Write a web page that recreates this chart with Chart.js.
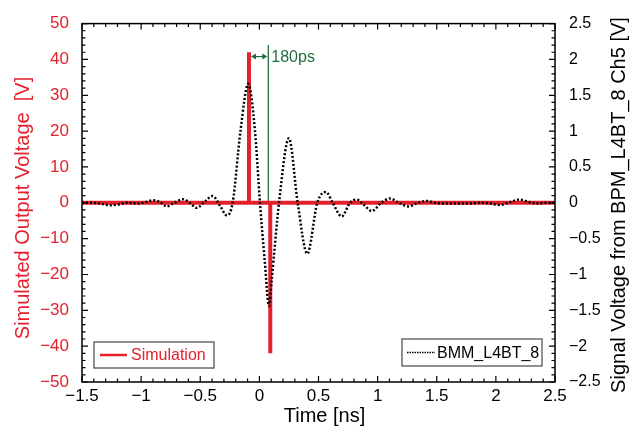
<!DOCTYPE html>
<html>
<head>
<meta charset="utf-8">
<script src="https://cdn.jsdelivr.net/npm/chart.js@4.4.0/dist/chart.umd.min.js"></script>
<style>
  html, body { margin: 0; padding: 0; background: #fff; }
</style>
</head>
<body>
<canvas id="c" width="631" height="426"></canvas>
<script>
// Simulación (eje izquierdo, V)
const simTime = [-1.5, -0.088, -0.088, -0.088, 0.092, 0.092, 0.092, 2.5];
const simVolt = [0, 0, 42, 0, 0, -42, 0, 0];

// Señal medida BPM_L4BT_8 (eje derecho, V)
const bpmTime = [-1.5, -1.42, -1.35, -1.26, -1.18, -1.12, -1.03, -0.96, -0.9, -0.84,
  -0.784, -0.72, -0.646, -0.59, -0.53, -0.46, -0.395, -0.33, -0.276, -0.226,
  -0.16, -0.094, -0.037, 0.005, 0.047, 0.081, 0.104, 0.166, 0.25, 0.324,
  0.405, 0.49, 0.563, 0.62, 0.696, 0.766, 0.823, 0.885, 0.95, 1.03,
  1.105, 1.18, 1.26, 1.34, 1.415, 1.5, 1.58, 1.78, 1.866, 1.95,
  2.035, 2.12, 2.2, 2.28, 2.345, 2.42, 2.5];
const bpmVolt = [0, 0, -0.01, -0.035, -0.02, 0, -0.01, 0.01, 0.035, 0.01,
  -0.05, 0, 0.05, 0, -0.07, 0.02, 0.095, -0.05, -0.175, 0,
  1.0, 1.66, 1.0, 0, -0.84, -1.44, -1.08, 0, 0.9, 0,
  -0.71, 0, 0.15, 0, -0.19, 0, 0.045, -0.03, -0.115, 0,
  0.06, 0, -0.05, 0, 0.025, -0.005, -0.01, -0.01, 0, -0.01,
  -0.03, 0.01, 0.045, 0.01, -0.01, 0, 0];

// Marcador verde del desfase
const markerTime = [0.0755, 0.0755];
const markerVolt = [0, 44];
const arrowVolt = 40.8;
const gapLabel = '180ps';

const xTicks = { min: -1.5, max: 2.5, step: 0.5, minor: 0.1 };
const yTicks = { min: -50, max: 50, step: 10, minor: 2 };
const y2Ticks = { min: -2.5, max: 2.5, step: 0.5, minor: 0.1 };

const RED = '#e3202c';
const GREEN = '#1f6e3a';
const FONT = "'Liberation Sans', Arial, sans-serif";

const toPoints = (xs, ys) => xs.map((t, i) => ({ x: t, y: ys[i] }));
const fmt = v => String(Math.round(v * 10) / 10).replace('-', '\u2212');

const decor = {
    id: 'decor',
    afterDraw(chart) {
        const { ctx, chartArea: a, scales } = chart;
        const { x, y, y2 } = scales;
        ctx.save();

        // marco
        ctx.strokeStyle = '#000';
        ctx.lineWidth = 1.5;
        ctx.strokeRect(a.left, a.top, a.right - a.left, a.bottom - a.top);

        // marcas hacia dentro
        ctx.lineWidth = 1.2;
        ctx.beginPath();
        const nx = Math.round((xTicks.max - xTicks.min) / xTicks.minor);
        for (let i = 0; i <= nx; i++) {
            const px = x.getPixelForValue(xTicks.min + i * xTicks.minor);
            const len = i % 5 === 0 ? 6 : 3.5;
            ctx.moveTo(px, a.bottom); ctx.lineTo(px, a.bottom - len);
            ctx.moveTo(px, a.top); ctx.lineTo(px, a.top + len);
        }
        const ny = Math.round((yTicks.max - yTicks.min) / yTicks.minor);
        for (let i = 0; i <= ny; i++) {
            const py = y.getPixelForValue(yTicks.min + i * yTicks.minor);
            const len = i % 5 === 0 ? 6 : 3.5;
            ctx.moveTo(a.left, py); ctx.lineTo(a.left + len, py);
        }
        const ny2 = Math.round((y2Ticks.max - y2Ticks.min) / y2Ticks.minor);
        for (let i = 0; i <= ny2; i++) {
            const py = y2.getPixelForValue(y2Ticks.min + i * y2Ticks.minor);
            const len = i % 5 === 0 ? 6 : 3.5;
            ctx.moveTo(a.right, py); ctx.lineTo(a.right - len, py);
        }
        ctx.stroke();

        // flecha doble verde
        const x1 = x.getPixelForValue(simTime[2]) + 2;
        const x2 = x.getPixelForValue(markerTime[0]) - 1;
        const ya = y.getPixelForValue(arrowVolt);
        ctx.strokeStyle = GREEN;
        ctx.fillStyle = GREEN;
        ctx.lineWidth = 1.2;
        ctx.beginPath();
        ctx.moveTo(x1 + 3, ya); ctx.lineTo(x2 - 3, ya);
        ctx.stroke();
        ctx.beginPath();
        ctx.moveTo(x1, ya); ctx.lineTo(x1 + 5, ya - 3); ctx.lineTo(x1 + 5, ya + 3); ctx.closePath();
        ctx.moveTo(x2, ya); ctx.lineTo(x2 - 5, ya - 3); ctx.lineTo(x2 - 5, ya + 3); ctx.closePath();
        ctx.fill();
        ctx.font = '16px ' + FONT;
        ctx.textAlign = 'left';
        ctx.textBaseline = 'middle';
        ctx.fillText(gapLabel, x.getPixelForValue(markerTime[0]) + 3, ya + 1);

        // leyendas
        const ds = chart.data.datasets;
        ctx.font = '16px ' + FONT;
        ctx.strokeStyle = '#555';
        ctx.lineWidth = 1.3;
        // Simulation
        let bx = a.left + 12, by = a.bottom - 40;
        ctx.strokeRect(bx, by, 120, 26);
        ctx.strokeStyle = RED; ctx.lineWidth = 2.5;
        ctx.beginPath(); ctx.moveTo(bx + 6, by + 13); ctx.lineTo(bx + 33, by + 13); ctx.stroke();
        ctx.fillStyle = RED;
        ctx.fillText(ds[1].label, bx + 37, by + 14);
        // BMM_L4BT_8
        bx = a.right - 153; by = a.bottom - 43;
        ctx.strokeStyle = '#555'; ctx.lineWidth = 1.3;
        ctx.strokeRect(bx, by, 140, 27);
        ctx.strokeStyle = '#000'; ctx.lineWidth = 1.5;
        ctx.setLineDash([1.5, 1]);
        ctx.beginPath(); ctx.moveTo(bx + 5, by + 13.5); ctx.lineTo(bx + 33, by + 13.5); ctx.stroke();
        ctx.setLineDash([]);
        ctx.fillStyle = '#000';
        ctx.fillText(ds[0].label, bx + 35, by + 14.5);

        // títulos de ejes
        ctx.font = '20px ' + FONT;
        ctx.textAlign = 'center';
        ctx.textBaseline = 'middle';
        ctx.fillStyle = '#000';
        ctx.fillText('Time [ns]', (a.left + a.right) / 2 + 6, 416);
        ctx.save();
        ctx.translate(23, 208);
        ctx.rotate(-Math.PI / 2);
        ctx.fillStyle = RED;
        ctx.fillText('Simulated Output Voltage  [V]', 0, 0);
        ctx.restore();
        ctx.save();
        ctx.translate(619, 205);
        ctx.rotate(-Math.PI / 2);
        ctx.fillStyle = '#000';
        ctx.fillText('Signal Voltage from BPM_L4BT_8 Ch5 [V]', 0, 0);
        ctx.restore();

        ctx.restore();
    }
};

new Chart(document.getElementById('c'), {
    type: 'line',
    data: {
        datasets: [{
            label: 'BMM_L4BT_8',
            data: toPoints(bpmTime, bpmVolt),
            yAxisID: 'y2',
            borderColor: '#000',
            borderWidth: 2.5,
            borderDash: [2, 2],
            cubicInterpolationMode: 'monotone',
            pointRadius: 0,
            fill: false
        }, {
            label: 'Simulation',
            data: toPoints(simTime, simVolt),
            yAxisID: 'y',
            borderColor: RED,
            borderWidth: 4,
            borderCapStyle: 'butt',
            tension: 0,
            pointRadius: 0,
            fill: false
        }, {
            label: 'marker',
            data: toPoints(markerTime, markerVolt),
            yAxisID: 'y',
            borderColor: GREEN,
            borderWidth: 1.3,
            pointRadius: 0,
            fill: false
        }]
    },
    options: {
        responsive: false,
        animation: false,
        layout: { padding: { top: 23, left: 0, right: 0, bottom: 0 } },
        plugins: { legend: { display: false }, tooltip: { enabled: false } },
        scales: {
            x: {
                type: 'linear', min: xTicks.min, max: xTicks.max,
                grid: { display: false, drawTicks: false },
                border: { display: false },
                ticks: { stepSize: xTicks.step, padding: 4, color: '#000', maxRotation: 0,
                    font: { family: FONT, size: 17 }, callback: fmt },
                afterFit: s => { s.height = 44; }
            },
            y: {
                position: 'left', min: yTicks.min, max: yTicks.max,
                grid: { display: false, drawTicks: false },
                border: { display: false },
                ticks: { stepSize: yTicks.step, padding: 13, color: RED,
                    font: { family: FONT, size: 17 }, callback: fmt },
                afterFit: s => { s.width = 82; }
            },
            y2: {
                position: 'right', min: y2Ticks.min, max: y2Ticks.max,
                grid: { display: false, drawTicks: false },
                border: { display: false },
                ticks: { stepSize: y2Ticks.step, padding: 14, color: '#000',
                    font: { family: FONT, size: 16 }, callback: fmt },
                afterFit: s => { s.width = 76; }
            }
        }
    },
    plugins: [decor]
});
</script>
</body>
</html>
